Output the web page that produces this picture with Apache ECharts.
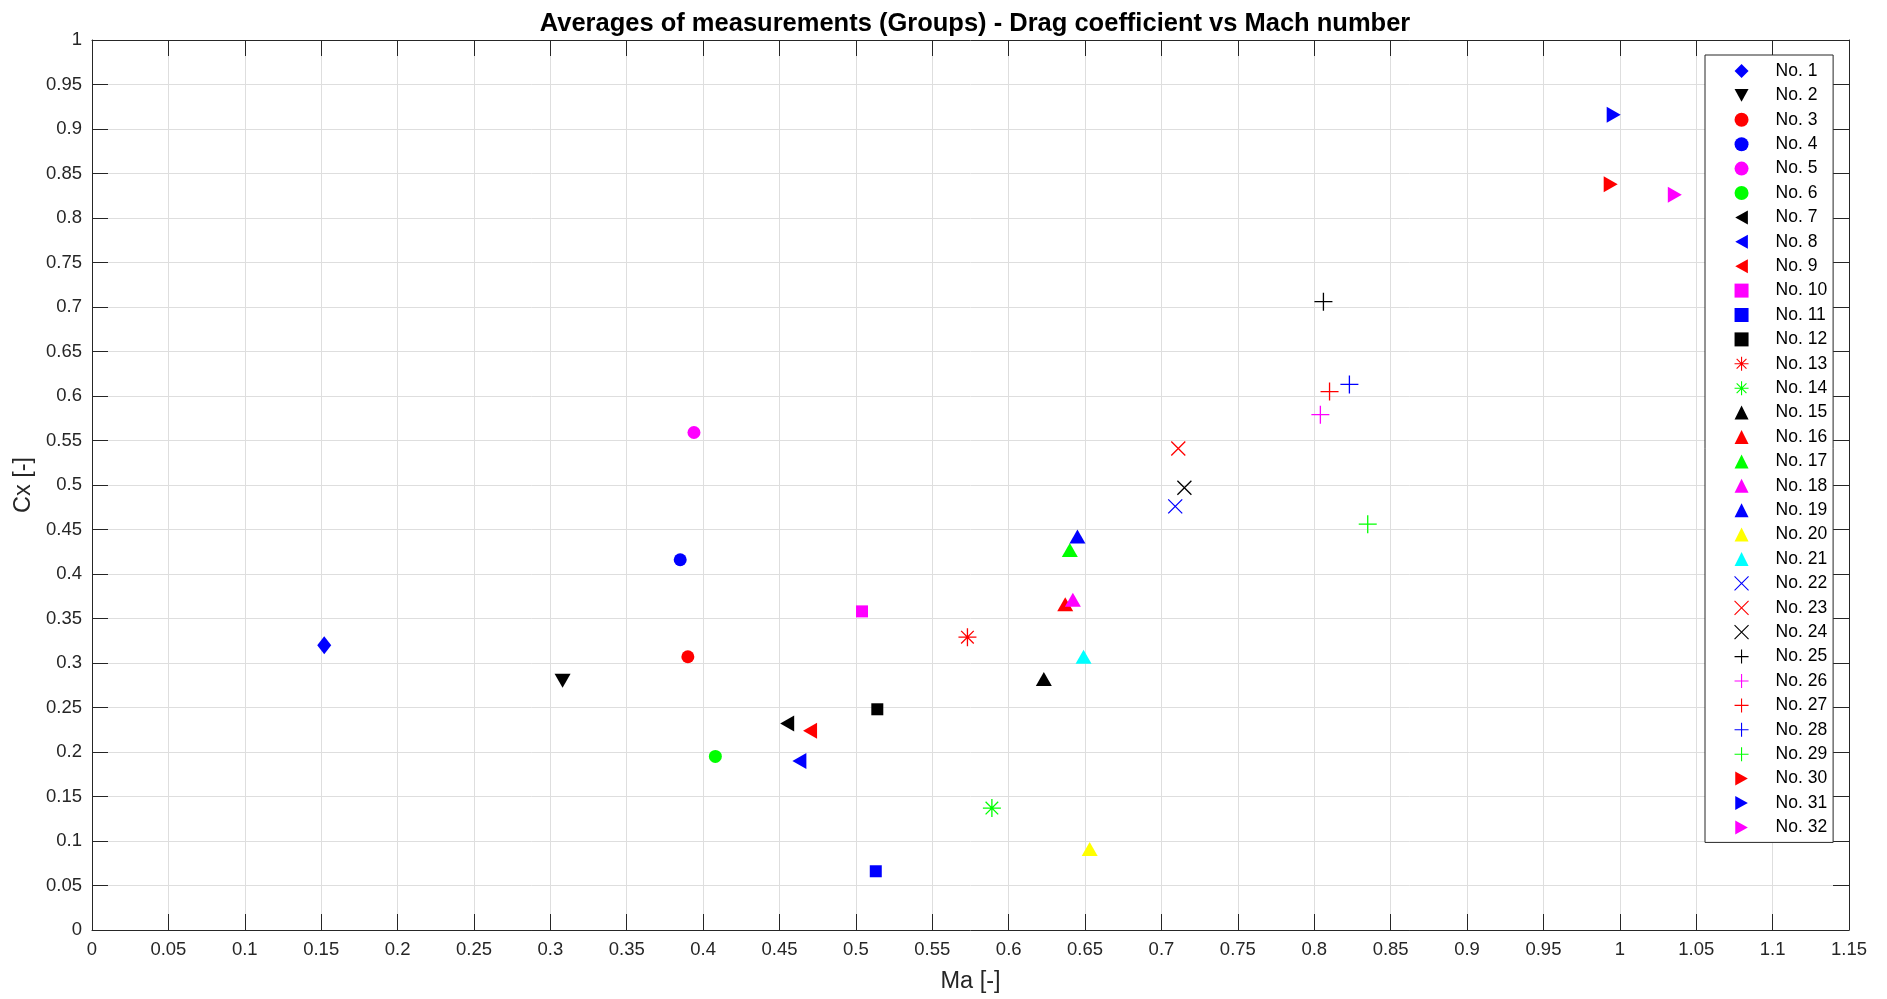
<!DOCTYPE html>
<html>
<head>
<meta charset="utf-8">
<title>Averages of measurements (Groups)</title>
<script src="https://cdn.jsdelivr.net/npm/echarts@6/dist/echarts.min.js"></script>
<style>
  html, body { margin: 0; padding: 0; background: #fff; }
  #chart { width: 1887px; height: 999px; }
</style>
</head>
<body>
<div id="chart"></div>
<script>
// group labels and the averaged values
const groupNames = [
  'No. 1', 'No. 2', 'No. 3', 'No. 4', 'No. 5', 'No. 6', 'No. 7', 'No. 8',
  'No. 9', 'No. 10', 'No. 11', 'No. 12', 'No. 13', 'No. 14', 'No. 15', 'No. 16',
  'No. 17', 'No. 18', 'No. 19', 'No. 20', 'No. 21', 'No. 22', 'No. 23', 'No. 24',
  'No. 25', 'No. 26', 'No. 27', 'No. 28', 'No. 29', 'No. 30', 'No. 31', 'No. 32'
]
const maValues = [
  0.152, 0.308, 0.390, 0.385, 0.394, 0.408, 0.455, 0.463,
  0.470, 0.504, 0.513, 0.514, 0.573, 0.589, 0.623, 0.637,
  0.640, 0.642, 0.645, 0.653, 0.649, 0.709, 0.711, 0.715,
  0.806, 0.804, 0.810, 0.823, 0.835, 0.994, 0.996, 1.036
]
const cxValues = [
  0.320, 0.280, 0.307, 0.416, 0.559, 0.195, 0.232, 0.190,
  0.224, 0.358, 0.066, 0.248, 0.329, 0.137, 0.282, 0.366,
  0.427, 0.371, 0.442, 0.091, 0.307, 0.476, 0.541, 0.497,
  0.706, 0.579, 0.605, 0.613, 0.456, 0.838, 0.916, 0.826
]

// marker style per group (matlab style markers)
const groupShapes = [
  'diamond', 'down', 'circle', 'circle', 'circle', 'circle', 'left', 'left',
  'left', 'square', 'square', 'square', 'asterisk', 'asterisk', 'up', 'up',
  'up', 'up', 'up', 'up', 'up', 'cross', 'cross', 'cross',
  'plus', 'plus', 'plus', 'plus', 'plus', 'right', 'right', 'right'
]
const groupColors = [
  '#0000ff', '#000000', '#ff0000', '#0000ff', '#ff00ff', '#00ff00', '#000000', '#0000ff',
  '#ff0000', '#ff00ff', '#0000ff', '#000000', '#ff0000', '#00ff00', '#000000', '#ff0000',
  '#00ff00', '#ff00ff', '#0000ff', '#ffff00', '#00ffff', '#0000ff', '#ff0000', '#000000',
  '#000000', '#ff00ff', '#ff0000', '#0000ff', '#00ff00', '#ff0000', '#0000ff', '#ff00ff'
]

const symbols = {
  diamond: 'diamond',
  circle: 'circle',
  square: 'rect',
  up: 'triangle',
  down: 'path://M0,0L10,0L5,9Z',
  left: 'path://M0,5L9,0L9,10Z',
  right: 'path://M9,5L0,0L0,10Z',
  asterisk: 'path://M5,0L5,10M0,5L10,5M1.5,1.5L8.5,8.5M8.5,1.5L1.5,8.5',
  cross: 'path://M0,0L10,10M10,0L0,10',
  plus: 'path://M5,0L5,10M0,5L10,5'
}
const sizes = {
  diamond: [14, 18],
  circle: 13,
  square: 12,
  up: [16, 14],
  down: [16, 14],
  left: [14, 16],
  right: [14, 16],
  asterisk: 18,
  cross: 14,
  plus: 18
}
const lineOnly = ['asterisk', 'cross', 'plus']

const font = "'Liberation Sans', Arial, Helvetica, sans-serif"
const axisColor = '#262626'

let chart = echarts.init(document.getElementById('chart'))

let series = groupNames.map((name, i) => {
  let shape = groupShapes[i]
  let color = groupColors[i]
  let stroke = lineOnly.indexOf(shape) >= 0
  return {
    name: name,
    type: 'scatter',
    xAxisIndex: 0,
    yAxisIndex: 0,
    data: [[maValues[i], cxValues[i]]],
    symbol: symbols[shape],
    symbolSize: sizes[shape],
    itemStyle: stroke
      ? { color: 'rgba(0,0,0,0)', borderColor: color, borderWidth: 1.3, opacity: 1 }
      : { color: color, opacity: 1 },
    emphasis: { disabled: true }
  }
})

// box on: bottom/left axes carry labels, top/right only ticks
function xAxisCfg (pos) {
  return {
    type: 'value',
    position: pos,
    min: 0,
    max: 1.15,
    interval: 0.05,
    axisLine: { show: true, onZero: false, lineStyle: { color: axisColor, width: 1 } },
    axisTick: { show: true, inside: true, length: 16, lineStyle: { color: axisColor, width: 1 } },
    axisLabel: {
      show: pos === 'bottom',
      margin: 10,
      fontFamily: font,
      fontSize: 18.5,
      color: axisColor
    },
    splitLine: { show: pos === 'bottom', lineStyle: { color: '#dedede', width: 1 } },
    name: pos === 'bottom' ? 'Ma [-]' : '',
    nameLocation: 'middle',
    nameGap: 40,
    nameTextStyle: { fontFamily: font, fontSize: 23.5, color: axisColor }
  }
}
function yAxisCfg (pos) {
  return {
    type: 'value',
    position: pos,
    min: 0,
    max: 1,
    interval: 0.05,
    axisLine: { show: true, onZero: false, lineStyle: { color: axisColor, width: 1 } },
    axisTick: { show: true, inside: true, length: 16, lineStyle: { color: axisColor, width: 1 } },
    axisLabel: {
      show: pos === 'left',
      margin: 10,
      fontFamily: font,
      fontSize: 18.5,
      color: axisColor
    },
    splitLine: { show: pos === 'left', lineStyle: { color: '#dedede', width: 1 } },
    name: pos === 'left' ? 'Cx [-]' : '',
    nameLocation: 'middle',
    nameGap: 55,
    nameTextStyle: { fontFamily: font, fontSize: 23.5, color: axisColor }
  }
}

let option = {
  animation: false,
  backgroundColor: '#fff',
  title: {
    text: 'Averages of measurements (Groups) - Drag coefficient vs Mach number',
    left: 970,
    top: 6,
    textAlign: 'center',
    textStyle: { fontFamily: font, fontSize: 25.5, fontWeight: 'bold', color: '#000' }
  },
  grid: {
    left: 92,
    right: 38,
    top: 40,
    bottom: 69,
    containLabel: false
  },
  legend: {
    orient: 'vertical',
    left: 1705,
    top: 55,
    padding: [7, 6, 6, 29],
    itemWidth: 14,
    itemHeight: 14,
    itemGap: 6.4,
    backgroundColor: '#fff',
    borderColor: axisColor,
    borderWidth: 1,
    borderRadius: 0,
    itemStyle: { borderWidth: 1.1 },
    textStyle: {
      fontFamily: font,
      fontSize: 17.5,
      color: '#000',
      padding: [0, 0, 0, 22]
    },
    data: groupNames
  },
  xAxis: [xAxisCfg('bottom'), xAxisCfg('top')],
  yAxis: [yAxisCfg('left'), yAxisCfg('right')],
  series: series
}

chart.setOption(option)
</script>
</body>
</html>
